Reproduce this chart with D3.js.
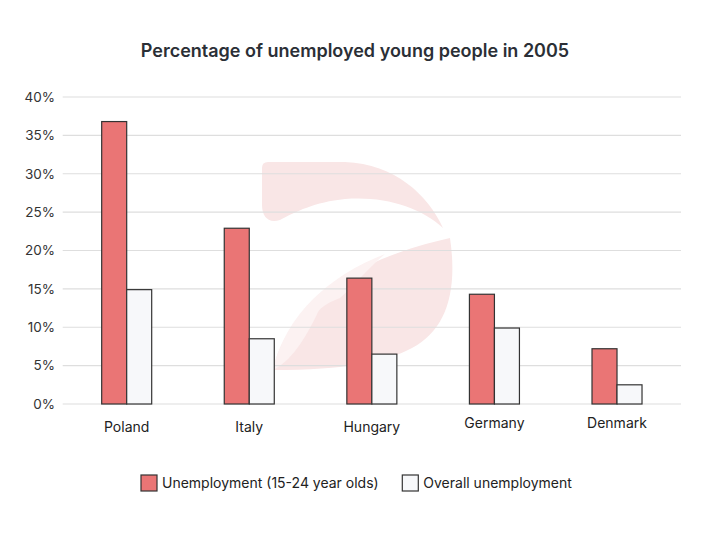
<!DOCTYPE html>
<html>
<head>
<meta charset="utf-8">
<script src="https://cdn.jsdelivr.net/npm/d3@7"></script>
<style>
  body { margin: 0; background: #fff; }
  svg { display: block; font-family: Inter, "Noto Sans", sans-serif; }
</style>
</head>
<body>
<svg id="chart" width="712" height="535"></svg>
<script>
const countries = ['Poland', 'Italy', 'Hungary', 'Germany', 'Denmark'];
const seriesNames = ['Unemployment (15-24 year olds)', 'Overall unemployment'];
const youthValues = [36.8, 22.9, 16.4, 14.3, 7.2];
const overallValues = [14.9, 8.5, 6.5, 9.9, 2.5];
const yTicks = [0, 5, 10, 15, 20, 25, 30, 35, 40];

const colors = ['#ea7575', '#f7f8fa'];
const svg = d3.select('#chart');

const y = d3.scaleLinear()
    .domain([0, 40])
    .range([404, 97]);

const x0 = d3.scaleBand()
    .domain(countries)
    .range([65.4, 678.3])
    .paddingInner(0.592)
    .paddingOuter(0.296);

const x1 = d3.scaleBand()
    .domain(seriesNames)
    .range([0, x0.bandwidth()]);

// faint logo in the background
const logo = svg.append('g');
logo.append('path')
    .attr('d', 'M262,168 Q262,162 268,162 L345,162 C395,164 428,195 443,228 C420,207 385,196 345,199 C315,202 295,212 280,220 C268,224 262,216 262,205 Z')
    .attr('fill', '#f9e6e6');
logo.append('path')
    .attr('d', 'M273,370 C285,315 340,262 450,238 C458,292 446,330 412,348 C386,362 345,370 273,370 Z')
    .attr('fill', '#f9e6e6');
logo.append('path')
    .attr('d', 'M273,370 C285,315 330,275 385,254 C368,268 352,288 340,298 C330,302 322,306 318,312 C305,340 290,362 273,370 Z')
    .attr('fill', '#fcf2f2');

// gridlines
svg.append('g')
    .selectAll('line')
    .data(yTicks)
    .join('line')
    .attr('x1', 62.7)
    .attr('x2', 681)
    .attr('y1', (d) => y(d))
    .attr('y2', (d) => y(d))
    .attr('stroke', '#dedede')
    .attr('stroke-width', 1.2);

// y axis labels
const yAxis = svg.append('g')
    .attr('transform', 'translate(62,0)')
    .call(d3.axisLeft(y).tickValues(yTicks).tickFormat((d) => d + '%').tickSize(0).tickPadding(7));
yAxis.select('.domain').remove();
yAxis.selectAll('text')
    .attr('font-family', 'Inter, sans-serif')
    .attr('font-size', 13.5)
    .attr('fill', '#333');

// bars
const groups = svg.append('g')
    .selectAll('g')
    .data(countries)
    .join('g')
    .attr('transform', (d) => `translate(${x0(d)},0)`);

groups.selectAll('rect')
    .data((d, i) => [youthValues[i], overallValues[i]].map((v, j) => ({ v, s: seriesNames[j], j })))
    .join('rect')
    .attr('x', (d) => x1(d.s))
    .attr('y', (d) => y(d.v))
    .attr('width', x1.bandwidth())
    .attr('height', (d) => y(0) - y(d.v))
    .attr('fill', (d) => colors[d.j])
    .attr('stroke', '#333')
    .attr('stroke-width', 1.2);

// x labels
svg.append('g')
    .selectAll('text')
    .data(countries)
    .join('text')
    .attr('x', (d) => x0(d) + x0.bandwidth() / 2)
    .attr('y', (d, i) => (i < 3 ? 432 : 428))
    .attr('text-anchor', 'middle')
    .attr('font-size', 14)
    .attr('fill', '#222')
    .text((d) => d);

// title
svg.append('text')
    .attr('x', 355)
    .attr('y', 57)
    .attr('text-anchor', 'middle')
    .attr('font-size', 18)
    .attr('font-weight', 600)
    .attr('fill', '#2b2f36')
    .text('Percentage of unemployed young people in 2005');

// legend
const legendX = [141, 402.3];
const legend = svg.append('g')
    .selectAll('g')
    .data(seriesNames)
    .join('g')
    .attr('transform', (d, i) => `translate(${legendX[i]},475)`);

legend.append('rect')
    .attr('width', 16)
    .attr('height', 16)
    .attr('fill', (d, i) => colors[i])
    .attr('stroke', '#333')
    .attr('stroke-width', 1.2);

legend.append('text')
    .attr('x', 21)
    .attr('y', 12.5)
    .attr('font-size', 14)
    .attr('fill', '#222')
    .text((d) => d);
</script>
</body>
</html>
